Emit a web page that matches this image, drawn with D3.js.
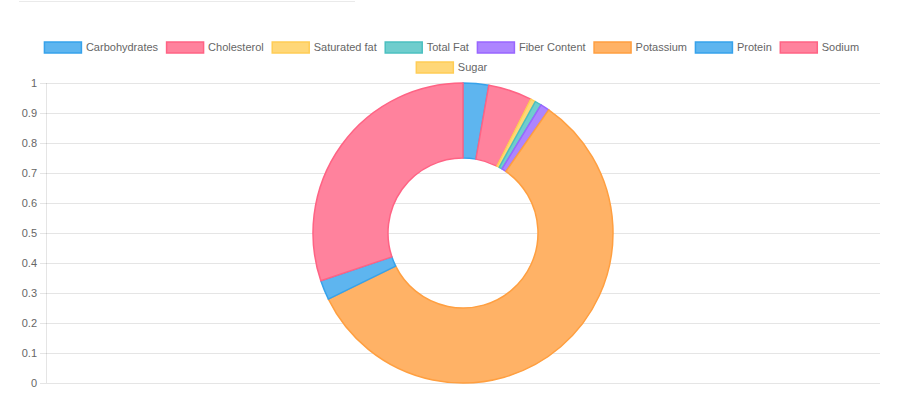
<!DOCTYPE html>
<html>
<head>
<meta charset="utf-8">
<script src="https://cdn.jsdelivr.net/npm/d3@7"></script>
<style>
  html, body { margin: 0; padding: 0; background: #fff; }
  #chart { width: 903px; height: 416px; }
  text { font-family: "Liberation Sans", Arial, Helvetica, sans-serif; font-size: 11px; fill: #666; }
</style>
</head>
<body>
<div id="chart"></div>
<script>
// nutrient labels, in drawing order
const labels = ['Carbohydrates','Cholesterol','Saturated fat','Total Fat','Fiber Content','Potassium','Protein','Sodium','Sugar'];
const values = [17, 29, 3.4, 4.3, 6, 358, 13, 186, 0];
const fills = ['#5eb5ef','#ff829d','#ffd778','#6fcdcd','#ad85ff','#ffb266','#5eb5ef','#ff829d','#ffd778'];
const strokes = ['#36a2eb','#ff6384','#ffcd56','#4bc0c0','#9966ff','#ff9f40','#36a2eb','#ff6384','#ffcd56'];
const yTicks = [0,0.1,0.2,0.3,0.4,0.5,0.6,0.7,0.8,0.9,1];

const width = 903, height = 416;
const svg = d3.select('#chart').append('svg')
    .attr('width', width)
    .attr('height', height);

// faint line at the very top of the page
svg.append('line')
    .attr('x1', 19).attr('x2', 355)
    .attr('y1', 1.5).attr('y2', 1.5)
    .attr('stroke', '#eaeaea');

// y axis + grid
const y = d3.scaleLinear().domain([0, 1]).range([383, 83]);
const plotLeft = 46.5, plotRight = 880;

const grid = svg.append('g');
grid.selectAll('line.grid')
    .data(yTicks)
    .enter().append('line')
    .attr('class', 'grid')
    .attr('x1', 40).attr('x2', plotRight)
    .attr('y1', d => Math.round(y(d)) + 0.5)
    .attr('y2', d => Math.round(y(d)) + 0.5)
    .attr('stroke', 'rgba(0,0,0,0.1)');

grid.append('line')
    .attr('x1', plotLeft).attr('x2', plotLeft)
    .attr('y1', y(1)).attr('y2', y(0))
    .attr('stroke', 'rgba(0,0,0,0.1)');

grid.selectAll('text')
    .data(yTicks)
    .enter().append('text')
    .attr('x', 37)
    .attr('y', d => y(d))
    .attr('dy', '0.35em')
    .attr('text-anchor', 'end')
    .text(d => d3.format('~g')(d));

// doughnut
const cx = 463, cy = 233, outerR = 150, innerR = 75;
const pie = d3.pie().sort(null).value(d => d.v);
const arc = d3.arc().innerRadius(innerR).outerRadius(outerR);
const pieData = pie(labels.map((l, i) => ({ label: l, v: values[i], i })));

svg.append('g')
    .attr('transform', `translate(${cx},${cy})`)
    .selectAll('path')
    .data(pieData.filter(d => d.data.v > 0))
    .enter().append('path')
    .attr('d', arc)
    .attr('fill', d => fills[d.data.i])
    .attr('stroke', d => strokes[d.data.i])
    .attr('stroke-width', 1.5)
    .attr('stroke-linejoin', 'round');

// legend, wrapped and centred like chart.js
const boxW = 37, boxH = 12, gap = 5, itemPad = 8, rowH = 20;
const legend = svg.append('g');
const measure = legend.append('text').attr('visibility', 'hidden');
const items = labels.map((l, i) => {
    measure.text(l);
    const w = measure.node().getComputedTextLength();
    return { label: l, i, w: boxW + gap + w };
});
measure.remove();

const maxRow = 840;
const rows = [[]];
let cur = 0;
items.forEach(it => {
    const add = it.w + (rows[rows.length - 1].length ? itemPad : 0);
    if (cur + add > maxRow && rows[rows.length - 1].length) {
        rows.push([it]);
        cur = it.w;
    } else {
        rows[rows.length - 1].push(it);
        cur += add;
    }
});

rows.forEach((row, r) => {
    const total = d3.sum(row, d => d.w) + itemPad * (row.length - 1);
    let x = (width - total) / 2;
    const yc = 47.5 + r * rowH;
    row.forEach(it => {
        const g = legend.append('g').attr('transform', `translate(${x},${yc})`);
        g.append('rect')
            .attr('x', 0.5).attr('y', -boxH / 2 + 0.5)
            .attr('width', boxW).attr('height', boxH - 1)
            .attr('fill', fills[it.i])
            .attr('stroke', strokes[it.i])
            .attr('stroke-width', 1.5);
        g.append('text')
            .attr('x', boxW + gap)
            .attr('y', 0)
            .attr('dy', '0.35em')
            .text(it.label);
        x += it.w + itemPad;
    });
});
</script>
</body>
</html>
